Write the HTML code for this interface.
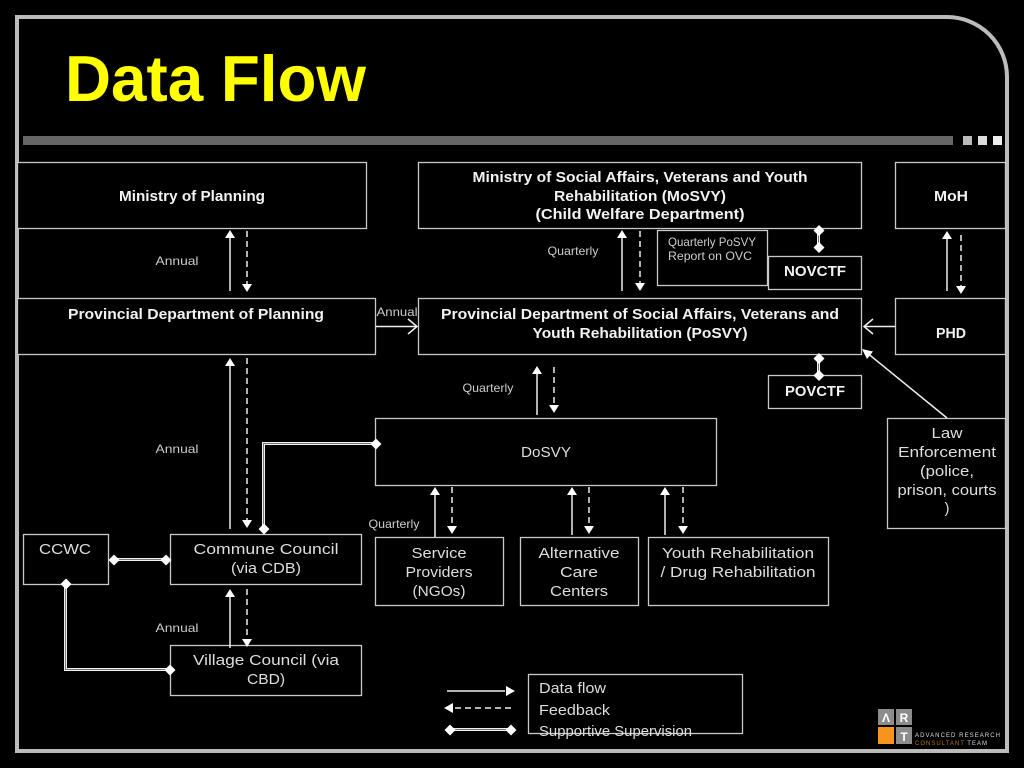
<!DOCTYPE html>
<html><head><meta charset="utf-8"><title>Data Flow</title>
<style>
html,body{margin:0;padding:0;background:#000;width:1024px;height:768px;overflow:hidden}
svg{display:block}
text{font-family:"Liberation Sans",sans-serif;fill:#dedede;font-size:15px;text-anchor:middle}
.b{font-weight:bold;fill:#f2f2f2;font-size:14.500px}
.s{font-size:12px;fill:#cccccc}
.box{fill:#000;stroke:#c8c8c8;stroke-width:1.3}
.a{stroke:#eee;stroke-width:1.5;fill:none}
.d{stroke:#eee;stroke-width:1.5;fill:none;stroke-dasharray:6 4}
.h{fill:#fff}
.dbl{stroke:#f0f0f0;stroke-width:3;fill:none}
.dbi{stroke:#777;stroke-width:1;fill:none}
</style></head><body>
<svg width="1024" height="768" viewBox="0 0 1024 768" xmlns="http://www.w3.org/2000/svg">
<rect width="1024" height="768" fill="#000"/>
<path d="M17,751V17H947A60,60 0 0 1 1007,77V751Z" fill="none" stroke="#bcbcbc" stroke-width="4"/>
<rect x="23" y="136" width="930" height="9" fill="#666"/>
<rect x="963" y="136" width="9" height="9" fill="#bbb"/>
<rect x="978" y="136" width="9" height="9" fill="#ddd"/>
<rect x="993" y="136" width="9" height="9" fill="#eee"/>
<text x="65" y="101" textLength="301" lengthAdjust="spacingAndGlyphs" style="font-size:65px;font-weight:bold;fill:#ff0;text-anchor:start">Data Flow</text>

<!-- boxes -->
<rect class="box" x="17.5" y="162.5" width="349" height="66"/>
<rect class="box" x="418.5" y="162.5" width="443" height="66"/>
<rect class="box" x="895.5" y="162.5" width="110" height="66"/>
<rect class="box" x="657.5" y="230.5" width="110" height="55"/>
<rect class="box" x="768.5" y="256.5" width="93" height="33"/>
<rect class="box" x="17.5" y="298.5" width="358" height="56"/>
<rect class="box" x="418.5" y="298.5" width="443" height="56"/>
<rect class="box" x="895.5" y="298.5" width="110" height="56"/>
<rect class="box" x="768.5" y="375.5" width="93" height="33"/>
<rect class="box" x="375.5" y="418.5" width="341" height="67"/>
<rect class="box" x="887.5" y="418.5" width="118" height="110"/>
<rect class="box" x="23.5" y="534.5" width="85" height="50"/>
<rect class="box" x="170.5" y="534.5" width="191" height="50"/>
<rect class="box" x="375.5" y="537.5" width="128" height="68"/>
<rect class="box" x="520.5" y="537.5" width="118" height="68"/>
<rect class="box" x="648.5" y="537.5" width="180" height="68"/>
<rect class="box" x="170.5" y="645.5" width="191" height="50"/>
<rect class="box" x="528.5" y="674.5" width="214" height="59"/>

<!-- connectors -->
<path class="a" d="M230,291V236M230,529V364M230,648V595M622,291V236M947,291V236M537,415V372M435,537V492M572,535V492M665,535V492"/>
<path class="d" d="M247,231V284M247,358V523M247,589V642M640,231V286M961,235V289M554,367V408M452,487V530M589,487V530M683,487V530"/>
<g class="h">
<path d="M230,230l-5,8h10zM622,230l-5,8h10zM947,231l-5,8h10zM230,358l-5,8h10zM230,589l-5,8h10zM537,366l-5,8h10zM435,487l-5,8h10zM572,487l-5,8h10zM665,487l-5,8h10z"/>
<path d="M247,292l-5,-8h10zM247,528l-5,-8h10zM247,647l-5,-8h10zM640,291l-5,-8h10zM961,294l-5,-8h10zM554,413l-5,-8h10zM452,534l-5,-8h10zM589,534l-5,-8h10zM683,534l-5,-8h10z"/>
</g>

<!-- open arrows -->
<path class="a" d="M376,326.500H417M408,319l9,7.500l-9,7.500"/>
<path class="a" d="M895,326.500H864M873,319l-9,7.500l9,7.500"/>
<path class="a" d="M947,418L866,352"/>
<path class="h" d="M862,349l11,2.500l-6,7.500z"/>

<!-- double lines -->
<path class="dbl" d="M818.500,230V247M818.500,357V375M375,443.500H263.500V529M114,559.500H166M65.500,584V669.500H170"/>
<path class="dbi" d="M818.500,230V247M818.500,357V375M375,443.500H263.500V529M114,559.500H166M65.500,584V669.500H170"/>
<g class="h">
<path d="M819,225l5.500,5.500l-5.500,5.500l-5.500,-5.500zM819,242l5.500,5.500l-5.500,5.500l-5.500,-5.500zM819,353l5.500,5.500l-5.500,5.500l-5.500,-5.500zM819,370l5.500,5.500l-5.500,5.500l-5.500,-5.500zM376,438.500l5.500,5.500l-5.500,5.500l-5.500,-5.500zM264,523.500l5.500,5.500l-5.500,5.500l-5.500,-5.500zM114,554.500l5.500,5.500l-5.500,5.500l-5.500,-5.500zM166,554.500l5.500,5.500l-5.500,5.500l-5.500,-5.500zM66,578.500l5.500,5.500l-5.500,5.500l-5.500,-5.500zM170,664.500l5.500,5.500l-5.500,5.500l-5.500,-5.500z"/>
</g>

<!-- legend lines -->
<path class="a" d="M447,691H505"/><path class="h" d="M515,691l-9,-5v10z"/>
<path class="d" d="M455,708H511"/><path class="h" d="M444,708l9,-5v10z"/>
<path class="dbl" d="M450,729.500H512"/><path class="dbi" d="M450,729.500H512"/>
<path class="h" d="M450,724.500l5.500,5.500l-5.500,5.500l-5.500,-5.500zM511,724.500l5.500,5.500l-5.500,5.500l-5.500,-5.500z"/>

<!-- bold labels -->
<text class="b" x="192" y="201" textLength="146" lengthAdjust="spacingAndGlyphs">Ministry of Planning</text>
<text class="b" x="640" y="182" textLength="335" lengthAdjust="spacingAndGlyphs">Ministry of Social Affairs, Veterans and Youth</text>
<text class="b" x="640" y="201" textLength="172" lengthAdjust="spacingAndGlyphs">Rehabilitation (MoSVY)</text>
<text class="b" x="640" y="219" textLength="209" lengthAdjust="spacingAndGlyphs">(Child Welfare Department)</text>
<text class="b" x="951" y="201" textLength="34" lengthAdjust="spacingAndGlyphs">MoH</text>
<text class="b" x="815" y="276" textLength="62" lengthAdjust="spacingAndGlyphs">NOVCTF</text>
<text class="b" x="196" y="319" textLength="256" lengthAdjust="spacingAndGlyphs">Provincial Department of Planning</text>
<text class="b" x="640" y="319" textLength="398" lengthAdjust="spacingAndGlyphs">Provincial Department of Social Affairs, Veterans and</text>
<text class="b" x="640" y="338" textLength="215" lengthAdjust="spacingAndGlyphs">Youth Rehabilitation (PoSVY)</text>
<text class="b" x="951" y="338" textLength="30" lengthAdjust="spacingAndGlyphs">PHD</text>
<text class="b" x="815" y="396" textLength="60" lengthAdjust="spacingAndGlyphs">POVCTF</text>

<!-- regular labels -->
<text x="546" y="457" textLength="50" lengthAdjust="spacingAndGlyphs">DoSVY</text>
<text x="947" y="438" textLength="31" lengthAdjust="spacingAndGlyphs">Law</text>
<text x="947" y="457" textLength="98" lengthAdjust="spacingAndGlyphs">Enforcement</text>
<text x="947" y="476" textLength="54" lengthAdjust="spacingAndGlyphs">(police,</text>
<text x="947" y="495" textLength="99" lengthAdjust="spacingAndGlyphs">prison, courts</text>
<text x="947" y="513">)</text>
<text x="65" y="554" textLength="52" lengthAdjust="spacingAndGlyphs">CCWC</text>
<text x="266" y="554" textLength="145" lengthAdjust="spacingAndGlyphs">Commune Council</text>
<text x="266" y="573" textLength="70" lengthAdjust="spacingAndGlyphs">(via CDB)</text>
<text x="266" y="665" textLength="146" lengthAdjust="spacingAndGlyphs">Village Council (via</text>
<text x="266" y="684" textLength="38" lengthAdjust="spacingAndGlyphs">CBD)</text>
<text x="439" y="558" textLength="55" lengthAdjust="spacingAndGlyphs">Service</text>
<text x="439" y="577" textLength="67" lengthAdjust="spacingAndGlyphs">Providers</text>
<text x="439" y="596" textLength="53" lengthAdjust="spacingAndGlyphs">(NGOs)</text>
<text x="579" y="558" textLength="81" lengthAdjust="spacingAndGlyphs">Alternative</text>
<text x="579" y="577" textLength="38" lengthAdjust="spacingAndGlyphs">Care</text>
<text x="579" y="596" textLength="58" lengthAdjust="spacingAndGlyphs">Centers</text>
<text x="738" y="558" textLength="152" lengthAdjust="spacingAndGlyphs">Youth Rehabilitation</text>
<text x="738" y="577" textLength="155" lengthAdjust="spacingAndGlyphs">/ Drug Rehabilitation</text>
<text x="539" y="693" textLength="67" lengthAdjust="spacingAndGlyphs" style="text-anchor:start;font-size:14.500px">Data flow</text>
<text x="539" y="715" textLength="71" lengthAdjust="spacingAndGlyphs" style="text-anchor:start;font-size:14.500px">Feedback</text>
<text x="539" y="736" textLength="153" lengthAdjust="spacingAndGlyphs" style="text-anchor:start;font-size:14.500px">Supportive Supervision</text>

<!-- small labels -->
<text class="s" x="177" y="265" textLength="43" lengthAdjust="spacingAndGlyphs">Annual</text>
<text class="s" x="177" y="453" textLength="43" lengthAdjust="spacingAndGlyphs">Annual</text>
<text class="s" x="177" y="632" textLength="43" lengthAdjust="spacingAndGlyphs">Annual</text>
<text class="s" x="397" y="316" textLength="41" lengthAdjust="spacingAndGlyphs">Annual</text>
<text class="s" x="573" y="255" textLength="51" lengthAdjust="spacingAndGlyphs">Quarterly</text>
<text class="s" x="488" y="392" textLength="51" lengthAdjust="spacingAndGlyphs">Quarterly</text>
<text class="s" x="394" y="528" textLength="51" lengthAdjust="spacingAndGlyphs">Quarterly</text>
<text class="s" x="668" y="246" textLength="88" lengthAdjust="spacingAndGlyphs" style="text-anchor:start">Quarterly PoSVY</text>
<text class="s" x="668" y="260" textLength="84" lengthAdjust="spacingAndGlyphs" style="text-anchor:start">Report on OVC</text>

<!-- logo -->
<rect x="878" y="709" width="16" height="16" fill="#8c8c8c"/>
<rect x="896" y="709" width="16" height="16" fill="#8c8c8c"/>
<rect x="878" y="727" width="16" height="17" fill="#f7941d"/>
<rect x="896" y="727" width="16" height="17" fill="#8c8c8c"/>
<text x="886" y="722" style="font-size:12px;fill:#fff;font-weight:bold">Λ</text>
<text x="904" y="722" style="font-size:12px;fill:#fff;font-weight:bold">R</text>
<text x="904" y="741" style="font-size:12px;fill:#fff;font-weight:bold">T</text>
<text x="915" y="737" textLength="85" lengthAdjust="spacing" style="font-size:6px;fill:#ddd;text-anchor:start">ADVANCED RESEARCH</text>
<text x="915" y="745" textLength="72" lengthAdjust="spacing" style="font-size:6px;fill:#ddd;text-anchor:start"><tspan fill="#b8721a">CONSULTANT</tspan> TEAM</text>
</svg>
</body></html>
